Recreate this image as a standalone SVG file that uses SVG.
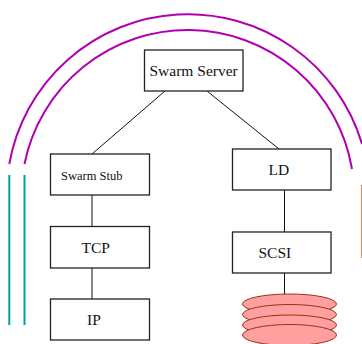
<svg xmlns="http://www.w3.org/2000/svg" width="362" height="344" viewBox="0 0 362 344">
<style>
.box{fill:#fff;stroke:#222;stroke-width:1.3}
.lbl{font-family:"Liberation Serif",serif;font-size:15.5px;fill:#111}
.arc{fill:none;stroke:#b000b0;stroke-width:2}
.bar{fill:none;stroke:#00a0a0;stroke-width:2}
.disk{fill:#ff9f9f;stroke:#983010;stroke-width:1}
.conn{fill:none;stroke:#111;stroke-width:1}
</style>
<rect width="362" height="344" fill="#fff"/>
<g id="arcs">
<path class="arc" d="M9.3 164A181.5 181.5 0 0 1 362 144"/>
<path class="arc" d="M24.5 164A166.5 166.5 0 0 1 352 169"/>
</g>
<g id="bars">
<path class="bar" d="M9.3 175V325M24.5 175V325"/>
<path fill="none" stroke="#c8926e" stroke-width="1.2" d="M361.5 185V258"/>
</g>
<g id="connectors">
<path class="conn" d="M165 91L92 154M207 91L279 149M92 195V226.5M92 268V299M284.5 190V232M284.5 273V294"/>
</g>
<g id="disks">
<ellipse class="disk" cx="289.5" cy="304" rx="47" ry="10"/>
<ellipse class="disk" cx="289.5" cy="314.5" rx="47" ry="10"/>
<ellipse class="disk" cx="289.5" cy="325" rx="47" ry="10"/>
<ellipse class="disk" cx="289.5" cy="335" rx="47" ry="10.5"/>
</g>
<g id="server"><rect class="box" x="144.5" y="50" width="98.5" height="41"/><text class="lbl" x="149.5" y="76">Swarm Server</text></g>
<g id="stub"><rect class="box" x="50.5" y="154" width="99" height="41"/><text class="lbl" x="61" y="180" style="font-size:12.5px">Swarm Stub</text></g>
<g id="tcp"><rect class="box" x="50.5" y="226.5" width="99" height="41.5"/><text class="lbl" x="81.5" y="253">TCP</text></g>
<g id="ip"><rect class="box" x="50.5" y="299" width="99" height="41"/><text class="lbl" x="87" y="325">IP</text></g>
<g id="ld"><rect class="box" x="232.5" y="149" width="98.5" height="41"/><text class="lbl" x="268.5" y="175">LD</text></g>
<g id="scsi"><rect class="box" x="232.5" y="232" width="98.5" height="41"/><text class="lbl" x="258.5" y="258">SCSI</text></g>
</svg>
